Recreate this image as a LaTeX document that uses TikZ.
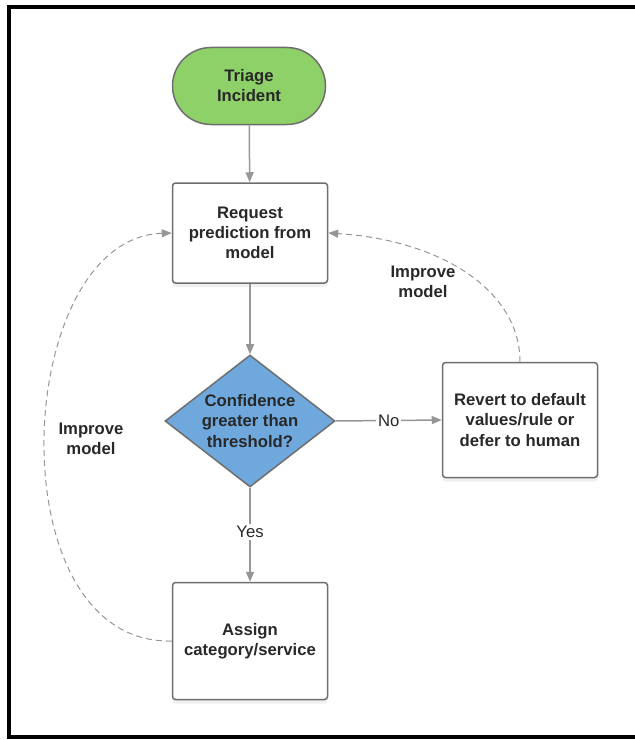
\documentclass[tikz,border=0pt]{standalone}
\usepackage{fontspec}
\setmainfont{Liberation Sans}
\usepackage{xcolor}
\usetikzlibrary{arrows.meta,shapes.geometric,shapes.misc,shadows}

\definecolor{termgreen}{RGB}{141,209,104}
\definecolor{decblue}{RGB}{111,168,220}
\definecolor{edgegray}{RGB}{150,150,150}
\definecolor{linegray}{RGB}{110,110,110}
\definecolor{txtgray}{RGB}{40,40,40}

\begin{document}
\begin{tikzpicture}[
  x=0.2mm, y=-0.2mm,
  every node/.style={font=\fontsize{9.5}{11.4}\selectfont\bfseries,text=txtgray,align=center},
  term/.style={rounded rectangle,draw=linegray,line width=0.3mm,fill=termgreen,
    minimum width=30.6mm,minimum height=15.4mm,inner sep=0pt},
  proc/.style={rectangle,draw=linegray,line width=0.3mm,rounded corners=0.6mm,fill=white,
    minimum width=31mm,inner sep=0pt,
    drop shadow={opacity=0.12,shadow xshift=0mm,shadow yshift=-0.8mm}},
  decision/.style={diamond,draw=linegray,line width=0.3mm,fill=decblue,
    minimum width=34mm,minimum height=26.4mm,inner sep=0pt},
  flow/.style={-{Triangle[length=2mm,width=1.6mm]},draw=edgegray,line width=0.3mm},
  fback/.style={flow,line width=0.2mm,dash pattern=on 1.2mm off 0.8mm},
  elabel/.style={font=\fontsize{9.5}{11.4}\selectfont,fill=white,inner sep=1pt},
]
\useasboundingbox (0,0) rectangle (634,740);
% ---- frame (right side is cut off) ----
\draw[line width=0.8mm] (640,7) -- (9,7) -- (9,737) -- (640,737);

% ---- main flow ----
\node[term] (triage) at (249,86) {Triage\\Incident};
\node[proc,minimum height=20mm] (request) at (250,233) {Request\\prediction from\\model};
\node[decision] (dec) at (250,421) {};
\node (dectxt) at (dec) {Confidence\\greater than\\threshold?};
\node[proc,minimum height=23mm] (revert) at (520,420) {Revert to default\\values/rule or\\defer to human};
\node[proc,minimum height=23.4mm] (assign) at (250,641) {Assign\\category/service};

\draw[flow] (triage) -- (request);
\draw[flow] (request) -- (dec);
\draw[flow] (dec.east) -- node[elabel] (no) {No} (revert.west);
\draw[flow] (dec.south) -- node[elabel,pos=0.47] (yes) {Yes} (assign.north);

% ---- feedback loops ----
\draw[fback] (assign.west) .. controls (-6,645) and (12,238) .. (request.west);
\node (fbleft) at (91,439) {Improve\\model};
\draw[fback] (revert.north) .. controls (520,290) and (440,240) .. (request.east);
\node (fbright) at (423,282) {Improve\\model};
\end{tikzpicture}
\end{document}
